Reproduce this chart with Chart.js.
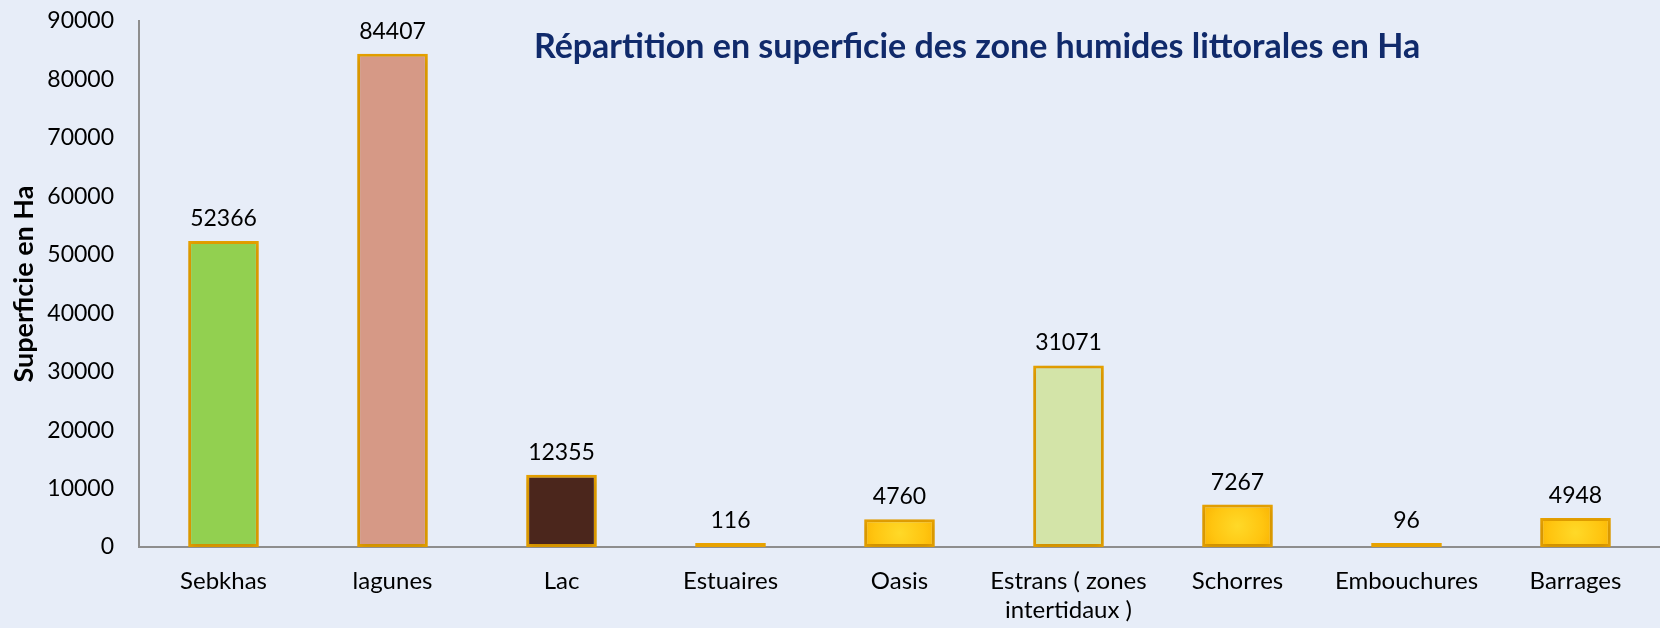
<!DOCTYPE html>
<html>
<head>
<meta charset="utf-8">
<script src="https://cdn.jsdelivr.net/npm/chart.js@4/dist/chart.umd.min.js"></script>
<style>
  html, body { margin: 0; padding: 0; background: #E7EDF8; }
  #wrap { width: 1660px; height: 628px; position: relative; }
</style>
</head>
<body>
<div id="wrap"><canvas id="zonesChart"></canvas></div>
<script>
const categories = ['Sebkhas', 'lagunes', 'Lac', 'Estuaires', 'Oasis', ['Estrans ( zones', 'intertidaux )'], 'Schorres', 'Embouchures', 'Barrages'];
const surfaces = [52366, 84407, 12355, 116, 4760, 31071, 7267, 96, 4948];
const yTicks = [0, 10000, 20000, 30000, 40000, 50000, 60000, 70000, 80000, 90000];

const titleText = 'Répartition en superficie des zone humides littorales en Ha';
const axisTitle = 'Superficie en Ha';
const fontFamily = 'Lato, "Open Sans", sans-serif';

// 'gold' means the radial yellow/orange fill
const fills = ['#92D050', '#D69986', '#4B261C', 'gold', 'gold', '#D3E4A8', 'gold', 'gold', 'gold'];

function barFill(ctx) {
    const fill = fills[ctx.dataIndex];
    if (fill !== 'gold') return fill;
    const chart = ctx.chart;
    const xs = chart.scales.x, ys = chart.scales.y;
    if (!xs || !ys || !chart.chartArea) return '#FFC20E';
    const cx = xs.getPixelForValue(ctx.dataIndex);
    const top = ys.getPixelForValue(surfaces[ctx.dataIndex]);
    const bottom = ys.getPixelForValue(0);
    const cy = (top + bottom) / 2;
    const g = chart.ctx.createRadialGradient(cx, cy, 0, cx, cy, 42);
    g.addColorStop(0, '#FFD928');
    g.addColorStop(0.6, '#FFC510');
    g.addColorStop(1, '#F9B000');
    return g;
}

// value labels above the bars
const valueLabels = {
    id: 'valueLabels',
    afterDatasetsDraw(chart) {
        const ctx = chart.ctx;
        const meta = chart.getDatasetMeta(0);
        ctx.save();
        ctx.font = '23px ' + fontFamily;
        ctx.fillStyle = '#000';
        ctx.textAlign = 'center';
        ctx.textBaseline = 'alphabetic';
        meta.data.forEach((bar, i) => {
            ctx.fillText(String(surfaces[i]), bar.x, bar.y - 15);
        });
        ctx.restore();
    }
};

// soft shadow under bars
const barShadow = {
    id: 'barShadow',
    beforeDatasetsDraw(chart) {
        const ctx = chart.ctx;
        ctx.save();
        ctx.shadowColor = 'rgba(0,0,0,0.16)';
        ctx.shadowBlur = 8;
        ctx.shadowOffsetY = 2;
    },
    afterDatasetsDraw(chart) {
        chart.ctx.restore();
    }
};

// title drawn inside the plot area
const insideTitle = {
    id: 'insideTitle',
    afterDraw(chart) {
        const ctx = chart.ctx;
        const area = chart.chartArea;
        ctx.save();
        ctx.font = 'bold 34px ' + fontFamily;
        ctx.fillStyle = '#102A6B';
        ctx.textAlign = 'center';
        ctx.textBaseline = 'middle';
        ctx.fillText(titleText, area.left + (area.right - area.left) * 0.551, area.top + 26);
        ctx.restore();
    }
};

const chart = new Chart(document.getElementById('zonesChart'), {
    type: 'bar',
    data: {
        labels: categories,
        datasets: [{
            data: surfaces,
            backgroundColor: barFill,
            borderColor: '#E8A200',
            borderWidth: 3,
            borderSkipped: false,
            minBarLength: 4,
            categoryPercentage: 0.82,
            barPercentage: 0.51
        }]
    },
    options: {
        responsive: true,
        maintainAspectRatio: false,
        animation: false,
        layout: { padding: { top: 21, right: 0, left: 0, bottom: 0 } },
        plugins: {
            legend: { display: false },
            tooltip: { enabled: false }
        },
        scales: {
            x: {
                grid: { display: false },
                border: { display: true, color: '#8E8E8E', width: 2 },
                ticks: {
                    color: '#000',
                    font: { family: fontFamily, size: 24 },
                    padding: 12,
                    maxRotation: 0,
                    autoSkip: false
                },
                afterFit(scale) { scale.height = 81; }
            },
            y: {
                min: 0,
                max: 90000,
                afterBuildTicks(scale) { scale.ticks = yTicks.map(v => ({ value: v })); },
                grid: { display: false, drawTicks: false },
                border: { display: true, color: '#8E8E8E', width: 2 },
                ticks: {
                    color: '#000',
                    font: { family: fontFamily, size: 23 },
                    padding: 25,
                    callback: v => String(v)
                },
                title: {
                    display: true,
                    text: axisTitle,
                    color: '#000',
                    font: { family: fontFamily, size: 27, weight: 'bold' },
                    padding: { top: 8, bottom: 0 }
                },
                afterFit(scale) {
                    scale.width = 139;
                    // tick padding should not push the plot area down
                    scale.paddingTop = 0;
                    scale.paddingBottom = 0;
                }
            }
        }
    },
    plugins: [barShadow, valueLabels, insideTitle]
});
</script>
</body>
</html>
